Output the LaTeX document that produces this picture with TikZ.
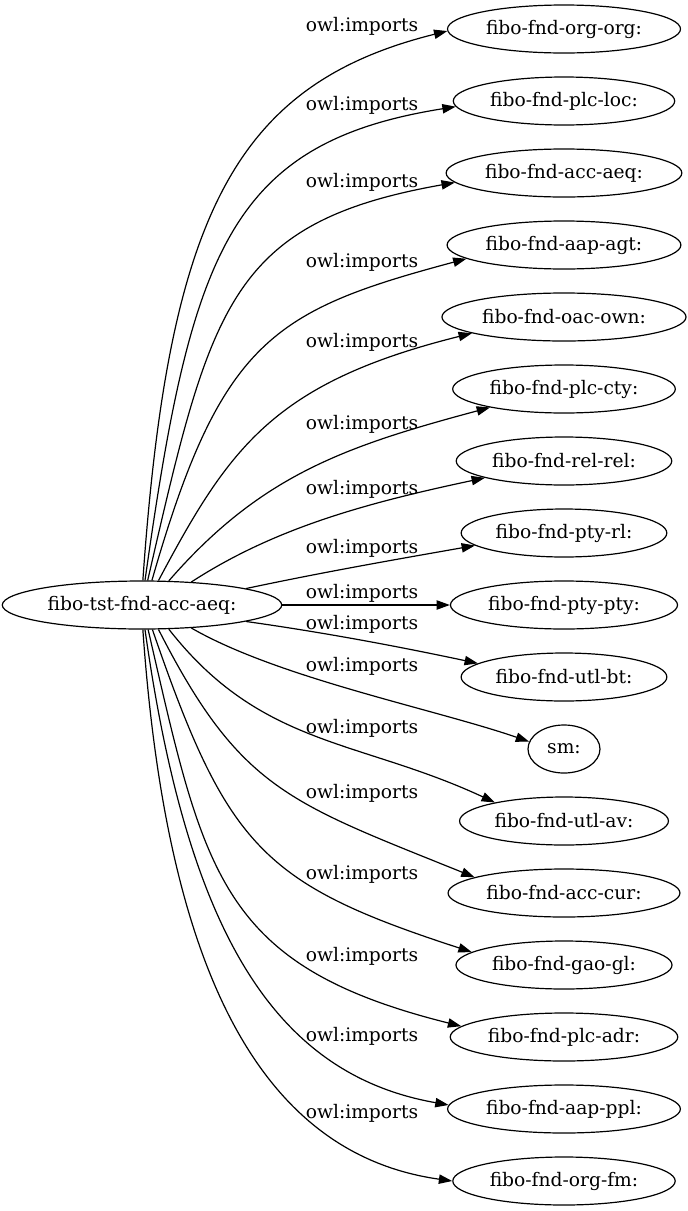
\documentclass[tikz,border=0pt]{standalone}
\usepackage{fontspec}
\setmainfont{DejaVu Serif}
\usetikzlibrary{shapes.geometric,arrows.meta}

\begin{document}
\begin{tikzpicture}[x=0.75pt, y=0.75pt, line width=0.9pt, black,
		ont/.style={draw, ellipse, inner xsep=3.3pt, inner ysep=2pt, minimum height=36pt, minimum width=54pt},
		imp/.style={-{Triangle[length=10pt,width=7pt]}},
		lbl/.style={inner sep=0pt}]
	\fontsize{14pt}{17pt}\selectfont
	\useasboundingbox (0,0) rectangle (688,-1211);

	% draw the importing ontology
	\node[ont] (src) at (142,-605) {fibo-tst-fnd-acc-aeq:};

	% draw the imported ontologies, one per row
	\foreach \i/\name in {1/fibo-fnd-org-org:, 2/fibo-fnd-plc-loc:, 3/fibo-fnd-acc-aeq:, 4/fibo-fnd-aap-agt:,
			5/fibo-fnd-oac-own:, 6/fibo-fnd-plc-cty:, 7/fibo-fnd-rel-rel:, 8/fibo-fnd-pty-rl:, 9/fibo-fnd-pty-pty:,
			10/fibo-fnd-utl-bt:, 11/sm:, 12/fibo-fnd-utl-av:, 13/fibo-fnd-acc-cur:, 14/fibo-fnd-gao-gl:,
			15/fibo-fnd-plc-adr:, 16/fibo-fnd-aap-ppl:, 17/fibo-fnd-org-fm:}
	\node[ont] (t\i) at (564,{-29-72*(\i-1)}) {\name};

	% draw the edge labels
	\foreach \i/\y in {1/26, 2/105, 3/182, 4/262, 5/342, 6/424, 7/489, 8/548, 9/593,
			10/624, 11/666, 12/728, 13/793, 14/874, 15/956, 16/1036, 17/1113}
	\node[lbl] (lb\i) at (362,-\y) {owl:imports};

	% draw the imports above the middle row
	\draw[imp] (src.88) .. controls +(86:365) and +(194:220) .. (t1.181);
	\draw[imp] (src.83) .. controls +(82:330) and +(189:230) .. (t2.183);
	\draw[imp] (src.77) .. controls +(77:280) and +(190:230) .. (t3.185);
	\draw[imp] (src.68) .. controls +(74:250) and +(195:200) .. (t4.188);
	\draw[imp] (src.56) .. controls +(62:150) and +(194:205) .. (t5.190);
	\draw[imp] (src.42) .. controls +(49:140) and +(195:150) .. (t6.194);
	\draw[imp] (src.25) .. controls +(33:100) and +(192:120) .. (t7.192);
	\draw[imp] (src.9) .. controls +(12:80) and +(190:80) .. (t8.188);

	% draw the straight one
	\draw[imp] (src.east) -- (t9.west);

	% draw the imports below the middle row
	\draw[imp] (src.-9) .. controls +(-8:80) and +(168:80) .. (t10.171);
	\draw[imp] (src.-25) .. controls +(-30:100) and +(161:100) .. (t11.168);
	\draw[imp] (src.-42) .. controls +(-52:150) and +(155:150) .. (t12.165);
	\draw[imp] (src.-56) .. controls +(-63:180) and +(158:200) .. (t13.170);
	\draw[imp] (src.-67) .. controls +(-71:230) and +(162:220) .. (t14.172);
	\draw[imp] (src.-76) .. controls +(-77:250) and +(166:250) .. (t15.174);
	\draw[imp] (src.-83) .. controls +(-82:300) and +(170:180) .. (t16.178);
	\draw[imp] (src.-88) .. controls +(-86:330) and +(172:200) .. (t17.180);
\end{tikzpicture}
\end{document}
